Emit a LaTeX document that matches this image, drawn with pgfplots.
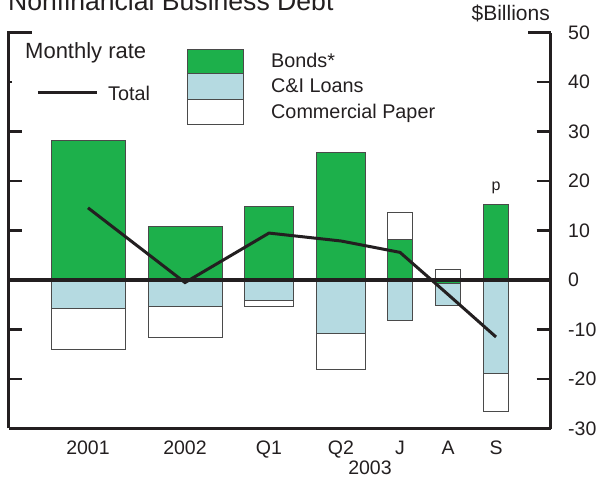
\documentclass[border=0pt]{standalone}
\usepackage{pgfplots}
\usepackage{pgfplotstable}
\usepackage{fontspec}
\setmainfont{Liberation Sans}
\pgfplotsset{compat=1.18}

\definecolor{bond}{HTML}{1DB04B}
\definecolor{cil}{HTML}{B5DAE1}
\definecolor{edge}{HTML}{4A4A4A}
\definecolor{ink}{HTML}{231F20}

% outer end of each segment ($ billions)
% cpend = end of commercial paper, ciend = end of C&I loans, bonds = bonds
\pgfplotstableread{
x    cpend  ciend  bonds
88   -14.0  -5.7   28.3
185  -11.6  -5.3   10.9
}\annual
\pgfplotstableread{
x    cpend  ciend  bonds
269  -5.4   -4.2   14.8
341  -18.1  -10.8  25.8
}\quarter
\pgfplotstableread{
x    cpend  ciend  bonds
400  13.7   -8.1   8.3
448  2.2    -5.1   -0.7
496  -26.5  -18.8  15.2
}\monthly

\newcommand{\segs}[2]{%
  \addplot[ybar, bar width=#2, bar shift=0, fill=white, draw=edge, line width=0.9bp] table[x=x, y=cpend] {#1};
  \addplot[ybar, bar width=#2, bar shift=0, fill=cil, draw=edge, line width=0.9bp] table[x=x, y=ciend] {#1};
  \addplot[ybar, bar width=#2, bar shift=0, fill=bond, draw=edge, line width=0.9bp] table[x=x, y=bonds] {#1};
}

\begin{document}
\begin{tikzpicture}
\useasboundingbox (-8.5bp,-52.5bp) rectangle (589.5bp,428.5bp);
\begin{axis}[
    at={(0,0)}, anchor=south west,
    scale only axis,
    width=542bp, height=395.8bp,
    xmin=8.5, xmax=550.5,
    ymin=-30, ymax=50,
    enlargelimits=false,
    clip=false,
    axis x line*=bottom,
    axis y line*=right,
    axis line style={line width=2.8bp, color=ink},
    major tick length=0pt,
    xtick={88,185,269,341,400,448,496},
    xticklabels={2001,2002,Q1,Q2,J,A,S},
    ytick={-30,-20,...,50},
    yticklabels={-30,-20,-10,0,10,20,30,40,50},
    tick label style={font=\fontsize{19.5bp}{23bp}\selectfont, text=ink},
    xticklabel style={anchor=base, inner sep=0pt, yshift=-25.5bp},
    yticklabel style={anchor=west, inner sep=0pt, xshift=17.5bp},
]
\segs{\annual}{74}
\segs{\quarter}{49}
\segs{\monthly}{25}

\draw[line width=3.2bp, ink] (axis cs:8.5,0) -- (axis cs:550.5,0);

\addplot[ink, line width=3bp, no markers] coordinates {
    (88,14.6) (185,-0.5) (269,9.5) (341,7.9) (400,5.6) (448,-2.9) (496,-11.5)};
\end{axis}

\begin{scope}[x=1bp, y=-1bp, shift={(-8.5bp,428.5bp)}, color=ink]
  % left axis and ticks
  \draw[line width=2.8bp] (8.5,428.5) -- (8.5,32.7) -- (32,32.7);
  \foreach \v in {30,20,10,0,-10,-20}
    \draw[line width=2.5bp] (8.5,{280-4.95*\v}) -- (22,{280-4.95*\v});
  \draw[line width=2.5bp] (8.5,82.2) -- (12,82.2);
  % right ticks
  \draw[line width=2.5bp] (528,32.7) -- (550.5,32.7);
  \foreach \v in {40,30,20,10,-10,-20}
    \draw[line width=2.5bp] (536.5,{280-4.95*\v}) -- (550.5,{280-4.95*\v});

  % texts
  \node[anchor=base west, inner sep=0pt, font=\fontsize{26.6bp}{30bp}\selectfont] at (8,11) {Nonfinancial Business Debt};
  \node[anchor=base east, inner sep=0pt, font=\fontsize{21bp}{25bp}\selectfont] at (550,21) {\$Billions};
  \node[anchor=base, inner sep=0pt, font=\fontsize{19.5bp}{23bp}\selectfont] at (370,475) {2003};
  \node[anchor=base, inner sep=0pt, font=\fontsize{16bp}{19bp}\selectfont] at (496,191) {p};

  % legend
  \node[anchor=base west, inner sep=0pt, font=\fontsize{22bp}{26bp}\selectfont] at (25,59) {Monthly rate};
  \draw[line width=3bp] (38,93) -- (97,93);
  \node[anchor=base west, inner sep=0pt, font=\fontsize{19.8bp}{23bp}\selectfont] at (108,101) {Total};
  \filldraw[fill=bond, draw=edge, line width=0.9bp] (187,49) rectangle (243,73);
  \filldraw[fill=cil, draw=edge, line width=0.9bp] (187,73) rectangle (243,99);
  \filldraw[fill=white, draw=edge, line width=0.9bp] (187,99) rectangle (243,124);
  \node[anchor=base west, inner sep=0pt, font=\fontsize{19.8bp}{23bp}\selectfont] at (271,68) {Bonds*};
  \node[anchor=base west, inner sep=0pt, font=\fontsize{19.8bp}{23bp}\selectfont] at (271,93) {C\&I Loans};
  \node[anchor=base west, inner sep=0pt, font=\fontsize{19.8bp}{23bp}\selectfont] at (271,119) {Commercial Paper};
\end{scope}
\end{tikzpicture}
\end{document}
